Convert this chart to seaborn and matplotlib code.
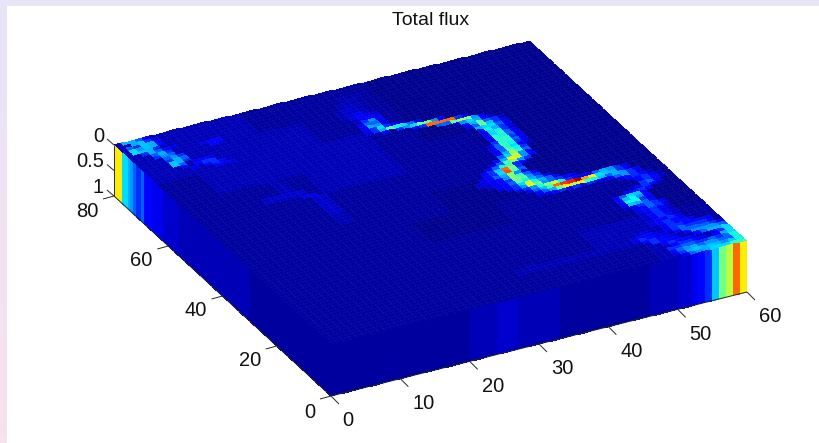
import numpy as np
import matplotlib
matplotlib.use("Agg")
import matplotlib.pyplot as plt
from matplotlib.transforms import Affine2D
import seaborn as sns

title = "Total flux"
x_ticks = [0, 10, 20, 30, 40, 50, 60]
y_ticks = [0, 20, 40, 60, 80]
z_ticks = [0, 0.5, 1]
z_labels = ["0", "0.5", "1"]

# Flux: one base-36 character per cell, indexing flux_scale.
flux_scale = [0.0, 0.012, 0.03, 0.05, 0.07, 0.10, 0.13, 0.17, 0.22, 0.27,
              0.30, 0.32, 0.343, 0.371, 0.40, 0.429, 0.457, 0.486, 0.514, 0.543,
              0.571, 0.60, 0.629, 0.657, 0.686, 0.714, 0.743, 0.771, 0.80, 0.829,
              0.857, 0.886, 0.914, 0.943, 0.97, 1.0]
background_rows = [
    "3332221111",
    "3333221111",
    "2333321111",
    "2223322111",
    "2222222111",
    "2222211111",
    "2222112221",
    "2222222221",
    "2222222332",
    "2222222233",
]
# (y index, first x index, levels)
ridge_rows = [
    (79,1,"aa86"),(78,2,"ab75"),(77,1,"87ba6"),(76,1,"c9ba6"),(76,30,"2323"),
    (75,1,"cba7"),(75,30,"2333"),(74,2,"7a865"),(74,29,"23332"),(73,3,"8a7"),
    (73,10,"566"),(73,29,"23433"),(72,3,"798"),(72,11,"65"),(72,28,"234432"),
    (71,4,"897"),(71,28,"23443"),(70,4,"7a8"),(70,29,"34543"),(69,4,"ba7"),
    (69,29,"35654"),(68,4,"b8"),(68,7,"565"),(68,30,"3565"),(67,5,"6"),
    (67,7,"677"),(67,30,"4796"),(66,6,"5"),(66,8,"676"),(66,30,"5885"),
    (65,9,"655"),(65,30,"6a95"),(64,30,"57c7"),(64,34,"53"),(63,29,"357agdc85"),
    (62,31,"35"),(62,34,"79chg96"),(61,36,"67ssss75"),(60,39,"88hki95"),
    (59,41,"59ca64"),(58,42,"5ag874"),(57,42,"58hb75"),(56,43,"acc85"),
    (55,43,"6da75"),(54,43,"5cd74"),(53,43,"6ce85"),(52,43,"6ed85"),
    (51,43,"5ee75"),(50,43,"7ee85"),(49,42,"58fd75"),(48,42,"58ec64"),
    (47,42,"58gd7"),(46,42,"6aie8"),(45,42,"8ck96"),(44,41,"6anl96"),
    (43,40,"58fi97"),(42,39,"58df76"),(41,38,"57bsh7"),(40,38,"67ctg8"),
    (39,37,"568ai95"),(38,36,"45569if86"),(37,36,"44567hg97"),(36,37,"4568gda86"),
    (35,38,"567clda86"),(34,39,"579mh98765"),(33,40,"579eikd76668a975"),
    (32,41,"58bfsuvyqncba75"),(31,42,"68ahnknfdb8a975"),(30,42,"456767676568975"),
    (29,53,"56764"),(28,54,"56753"),(27,55,"5764"),(26,55,"785"),(25,53,"46764"),
    (24,52,"5676"),(23,50,"58cb6"),(22,50,"6bd96"),(21,50,"6dd75"),(20,50,"5ba86"),
    (19,50,"457875"),(18,51,"56875"),(17,51,"56764"),(16,51,"45754"),(15,51,"46754"),
    (14,51,"45764"),(13,51,"46675"),(12,51,"56765"),(11,52,"57665"),(10,48,"45"),
    (10,52,"5776665"),(9,47,"4565"),(9,52,"5787776"),(8,30,"3333333333333333"),
    (8,46,"357655"),(8,53,"6888875"),(7,30,"333333333333333333"),(7,48,"67654"),
    (7,54,"699998"),(6,49,"7665"),(6,55,"68aac"),(5,50,"67665"),(5,57,"57c"),
    (4,51,"67765"),(4,57,"6ac"),(3,50,"778877878d"),(2,50,"689a89988d"),
    (1,50,"57ababa9bd"),(0,51,"589acccee"),
]
faint_rows = [
    (63,10,"33"),(62,10,"33"),(61,11,"33"),(60,11,"33"),(59,11,"33"),(58,12,"33"),
    (57,12,"33"),(56,12,"33"),(55,12,"33"),(54,13,"33"),(53,13,"33"),(52,13,"33"),
    (51,13,"33"),(50,10,"444444"),(49,10,"444444"),(48,15,"55"),(47,16,"44"),
    (46,16,"44"),(45,16,"44"),(44,16,"44"),(43,16,"44"),(42,16,"44"),(41,16,"44"),
    (40,16,"33"),(39,16,"33"),(38,16,"33"),(37,16,"33"),
]
# Wall strips, left wall from y = 79 down to 0, right wall from x = 0 up to 59.
left_wall = ("nnncca987786665" "55544444433333333" "3333333333333333"
             "3322222222222222" "2222222222222222")
right_wall = ("22222222222222222222" "33334443333332222222" "222222333344" "567bhksn")


def levels(text):
    return [flux_scale[int(c, 36)] for c in text]


top = np.repeat(np.repeat(np.array([levels(r) for r in background_rows]), 8, axis=0), 6, axis=1)
for y, col, text in faint_rows + ridge_rows:
    top[79 - y, col:col + len(text)] = levels(text)

# Fixed view of the box, in pixels of the 820x443 figure.
O = np.array([114.0, 145.0])
XV = np.array([416.0, -104.0]) / 60
YV = np.array([217.0, 200.0]) / 80
ZV = np.array([0.0, 51.0])


def project(x, y, z):
    return O + x * XV + (80 - y) * YV + z * ZV


sns.set_theme(style="white")
plt.rcParams["font.family"] = ["Liberation Sans", "DejaVu Sans"]

fig = plt.figure(figsize=(8.2, 4.43), dpi=100, facecolor="white")
ax = fig.add_axes([0, 0, 1, 1])


def panel(data, ux, uy, origin, lw):
    sns.heatmap(data, ax=ax, cmap="jet", vmin=0, vmax=1, cbar=False,
                xticklabels=False, yticklabels=False,
                linewidths=lw, linecolor=(0.5, 0.65, 1.0, 0.04))
    mesh = ax.collections[-1]
    mesh.set_transform(Affine2D.from_values(ux[0], ux[1], uy[0], uy[1], origin[0], origin[1]) + ax.transData)


panel(top, XV, YV, O, 0.2)
panel(np.array([levels(left_wall)]), YV, ZV, O, 0)
panel(np.array([levels(right_wall)]), XV, ZV, project(0, 0, 0), 0)

# Page decoration: top strip and left gradient strip.
grad = np.linspace([232, 228, 248], [248, 226, 236], 64)[:, None, :] / 255
ax.imshow(grad, extent=[0, 7, 443, 0], aspect="auto", zorder=0.5)
ax.fill_between([0, 820], 0, 6, color="#E8E4F8", lw=0, zorder=0.6)

LINE = dict(color="#262626", lw=0.7, solid_capstyle="butt", zorder=5)
corner = project(0, 0, 1)
for a, b in [(project(0, 80, 1), corner), (corner, project(60, 0, 1)), (project(0, 80, 0), project(0, 80, 1))]:
    ax.plot([a[0], b[0]], [a[1], b[1]], **LINE)

FONT = dict(fontsize=14.5, color="#111111", zorder=6)
for v in x_ticks:
    p = project(v, 0, 1)
    ax.plot([p[0], p[0] + 8], [p[1], p[1] + 8], **LINE)
    off = (17, 25) if v == 0 else (23, 25)
    ax.text(p[0] + off[0], p[1] + off[1], str(v), ha="center", va="center", **FONT)
for v in y_ticks:
    p = project(0, v, 1)
    ax.plot([p[0], p[0] - 11], [p[1], p[1] + 3], **LINE)
    off = (-21, 16) if v == 0 else (-27, 15)
    ax.text(p[0] + off[0], p[1] + off[1], str(v), ha="center", va="center", **FONT)
for v, lab in zip(z_ticks, z_labels):
    p = project(0, 80, v)
    ax.plot([p[0], p[0] - 7], [p[1], p[1] - 6], **LINE)
    ax.text(p[0] - 10, p[1] - 9, lab, ha="right", va="center", **FONT)

ax.text(431, 20, title, ha="center", va="center", fontsize=14, color="#111111", zorder=6)

ax.set_xlim(0, 820)
ax.set_ylim(443, 0)
ax.set_axis_off()
fig.savefig("out.png", dpi=100, facecolor="white")
